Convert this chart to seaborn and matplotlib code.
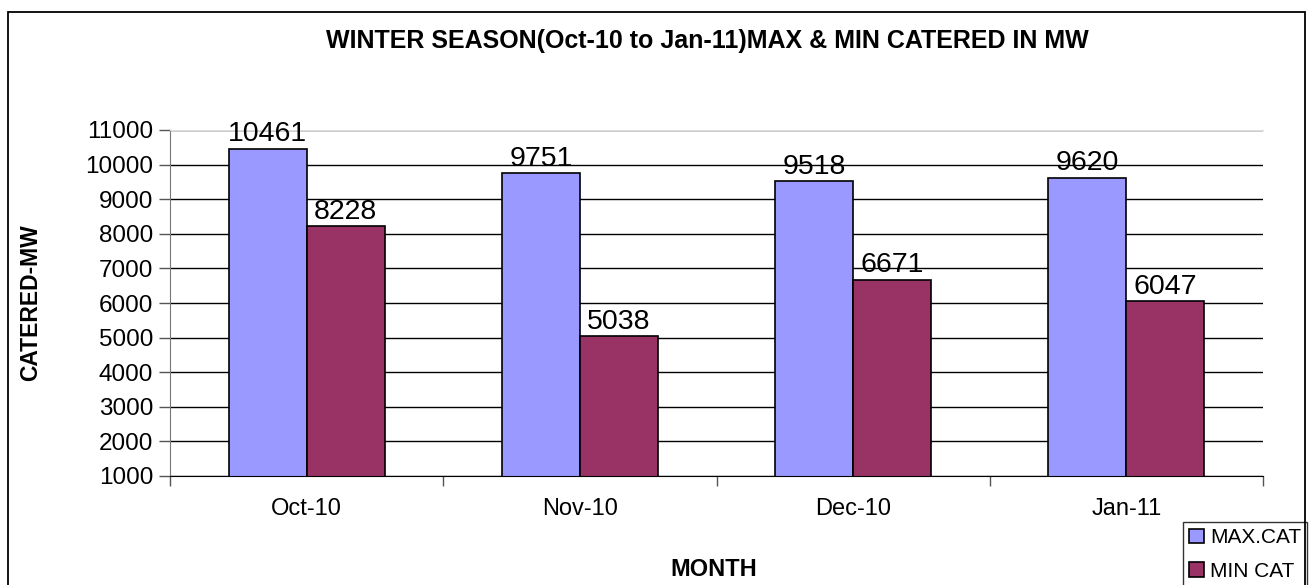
import numpy as np
import pandas as pd
import matplotlib
matplotlib.use("Agg")
import matplotlib.pyplot as plt
from matplotlib.patches import Rectangle
import seaborn as sns

# data
months = ["Oct-10", "Nov-10", "Dec-10", "Jan-11"]
max_cat = [10461, 9751, 9518, 9620]
min_cat = [8228, 5038, 6671, 6047]
series_names = ["MAX.CAT", "MIN CAT"]
colors = ["#9999FF", "#993366"]


def draw_chart():
    df = pd.DataFrame({
        "month": months * 2,
        "value": max_cat + min_cat,
        "series": [series_names[0]] * len(months) + [series_names[1]] * len(months),
    })

    sns.set_style("white")
    plt.rcParams["font.family"] = ["Liberation Sans", "DejaVu Sans"]
    plt.rcParams["text.color"] = "black"
    plt.rcParams["axes.labelcolor"] = "black"

    fig = plt.figure(figsize=(13.09, 5.85), dpi=100)
    ax = fig.add_axes([170 / 1309, 1 - 476 / 585, (1263 - 170) / 1309, (476 - 130) / 585])

    sns.barplot(data=df, x="month", y="value", hue="series", palette=colors,
                width=0.57, edgecolor="black", linewidth=1.2, ax=ax,
                saturation=1, legend=True)

    for cont in ax.containers:
        ax.bar_label(cont, fmt="%d", fontsize=20.5, padding=1, color="black")

    ax.set_ylim(1000, 11000)
    ax.set_xlim(-0.5, len(months) - 0.5)
    ax.set_yticks(np.arange(1000, 11001, 1000))
    ax.yaxis.grid(True, color="black", linewidth=1)
    ax.set_axisbelow(True)
    ax.tick_params(axis="y", labelsize=17.5, length=8, width=1, color="#555555",
                   labelcolor="black", left=True, pad=4)
    ax.set_xticks(range(len(months)))
    ax.set_xticklabels(months)
    ax.tick_params(axis="x", which="major", labelsize=17, length=0, pad=16, labelcolor="black")
    ax.set_xticks(np.arange(-0.5, len(months), 1), minor=True)
    ax.tick_params(axis="x", which="minor", length=7, width=1, color="#555555", bottom=True)

    ax.spines["right"].set_visible(False)
    ax.spines["top"].set_color("#dddddd")
    ax.spines["left"].set_color("#777777")
    ax.spines["bottom"].set_color("black")

    ax.set_xlabel("")
    ax.set_ylabel("")
    fig.text(707 / 1309, 1 - 41 / 585,
             "WINTER SEASON(Oct-10 to Jan-11)MAX & MIN CATERED IN MW",
             ha="center", va="center", fontsize=18, fontweight="bold")
    fig.text(714 / 1309, 1 - 570 / 585, "MONTH", ha="center", va="center",
             fontsize=17, fontweight="bold")
    fig.text(31 / 1309, 1 - 303 / 585, "CATERED-MW", ha="center", va="center",
             rotation=90, fontsize=16.5, fontweight="bold")

    leg = ax.legend(loc="upper left", bbox_to_anchor=(1183 / 1309, 1 - 522 / 585),
                    bbox_transform=fig.transFigure, frameon=True, fancybox=False,
                    edgecolor="black", fontsize=15, handlelength=0.7, handleheight=0.7,
                    handletextpad=0.3, borderpad=0.3, labelspacing=0.7, borderaxespad=0)
    leg.get_frame().set_linewidth(1)
    for t in leg.get_texts():
        t.set_color("black")

    fig.patches.append(Rectangle((8 / 1309, -0.01), (1305 - 8) / 1309, 1.01 - 12 / 585,
                                 transform=fig.transFigure, fill=False,
                                 edgecolor="black", linewidth=1.3, zorder=0))

    fig.savefig("out.png", dpi=100)
    plt.close(fig)


if __name__ == "__main__":
    draw_chart()
